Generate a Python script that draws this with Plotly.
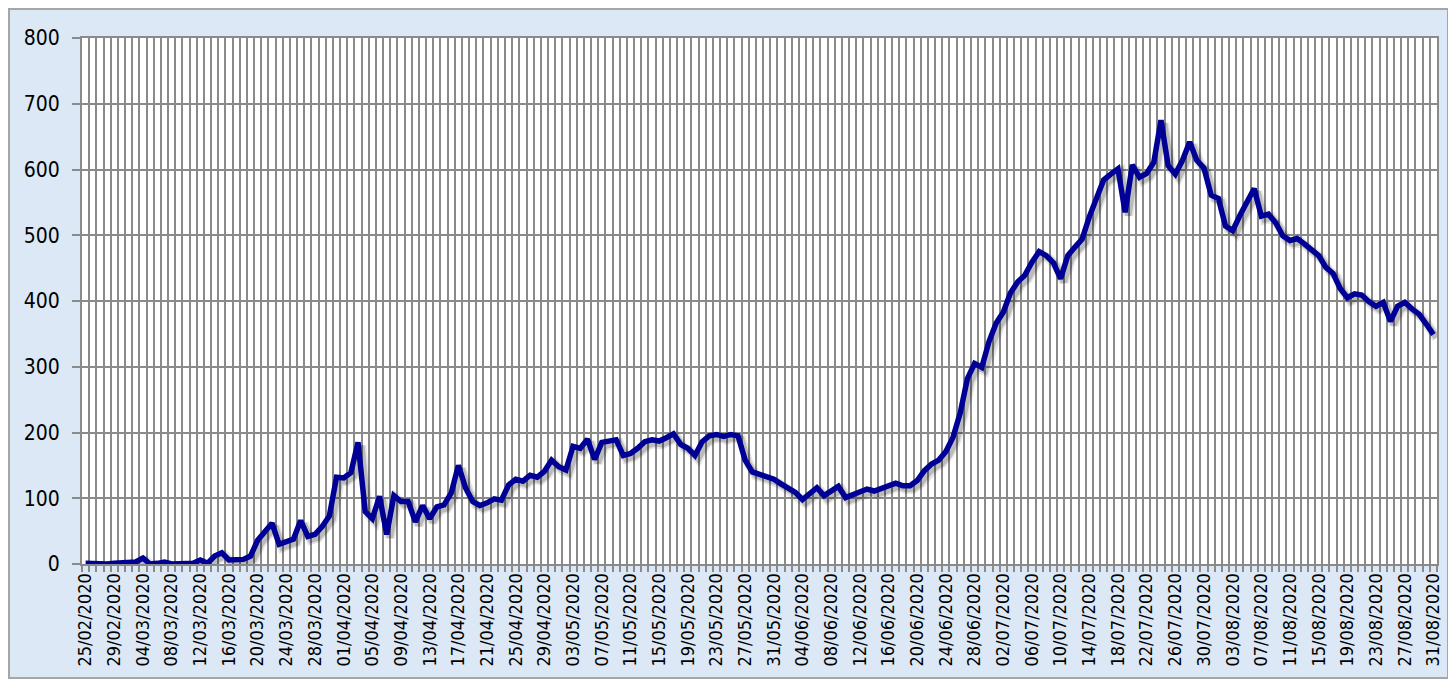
import plotly.graph_objects as go
import pandas as pd

# ---- data (daily values, 25/02/2020 .. 31/08/2020) ----
dates = pd.date_range("2020-02-25", "2020-08-31", freq="D").strftime("%d/%m/%Y").tolist()

cases = [
    1, 0, 0, 0, 1, 2, 2, 3, 9, 0,            # 25/02 - 05/03
    1, 3, 0, 1, 0, 1, 6, 1, 12, 17,          # 06/03 - 15/03
    6, 6, 7, 12, 36, 49, 62, 30, 33, 38,     # 16/03 - 25/03
    66, 42, 45, 57, 73, 132, 131, 139, 185, 80,   # 26/03 - 04/04
    69, 103, 45, 104, 95, 95, 64, 89, 69, 87,     # 05/04 - 14/04
    90, 108, 150, 116, 95, 89, 93, 99, 97, 120,   # 15/04 - 24/04
    129, 126, 135, 132, 141, 158, 148, 143, 179, 176,  # 25/04 - 04/05
    190, 159, 185, 187, 189, 165, 168, 176, 186, 189,  # 05/05 - 14/05
    187, 192, 198, 182, 176, 165, 186, 195, 197, 194,  # 15/05 - 24/05
    197, 195, 158, 140, 137, 134, 129, 122, 115, 109,  # 25/05 - 03/06
    98, 107, 116, 104, 112, 118, 101, 106, 110, 114,   # 04/06 - 13/06
    111, 115, 119, 123, 119, 119, 127, 142, 152, 158,  # 14/06 - 23/06
    171, 193, 230, 282, 305, 299, 338, 366, 383, 412,  # 24/06 - 03/07
    429, 439, 459, 475, 469, 458, 434, 469, 482, 494,  # 04/07 - 13/07
    528, 558, 584, 593, 601, 535, 607, 588, 594, 611,  # 14/07 - 23/07
    675, 606, 593, 614, 642, 614, 602, 561, 556, 514,  # 24/07 - 02/08
    507, 530, 551, 571, 529, 532, 519, 499, 492, 495,  # 03/08 - 12/08
    487, 478, 469, 451, 442, 419, 405, 411, 409, 399,  # 13/08 - 22/08
    392, 398, 369, 392, 398, 388, 380, 365, 349,       # 23/08 - 31/08
]

tick_labels = [d if i % 4 == 0 else "" for i, d in enumerate(dates)]
y_ticks = [0, 100, 200, 300, 400, 500, 600, 700, 800]
idx = list(range(len(dates)))

FONT = "DejaVu Sans Condensed, Liberation Sans Narrow, Arial Narrow, sans-serif"
GRID = "#8a8a8a"
LINE = "#000096"

W, H = 1441, 671
ML, MR, MT, MB = 74, 12, 30, 115
PW, PH = W - ML - MR, H - MT - MB

fig = go.Figure()

# soft drop shadow, drawn on hidden base axes whose ranges are slightly shifted
fig.add_trace(go.Scatter(
    x=idx, y=cases, xaxis="x", yaxis="y", mode="lines",
    line=dict(color="rgba(0,0,0,0.10)", width=10),
    hoverinfo="skip", showlegend=False))
fig.add_trace(go.Scatter(
    x=idx, y=cases, xaxis="x", yaxis="y", mode="lines",
    line=dict(color="rgba(0,0,0,0.18)", width=6.5),
    hoverinfo="skip", showlegend=False))

# main series
fig.add_trace(go.Scatter(
    x=dates, y=cases, xaxis="x2", yaxis="y2", mode="lines",
    line=dict(color=LINE, width=5.5),
    showlegend=False))

n = len(dates)
fig.update_layout(
    width=W, height=H,
    margin=dict(l=ML, r=MR, t=MT, b=MB, autoexpand=False),
    paper_bgcolor="#dce8f5",
    plot_bgcolor="#ffffff",
    font=dict(family=FONT, color="#000000"),
    xaxis=dict(visible=False, range=[-0.5 - 0.45, n - 0.5 - 0.45], automargin=False),
    yaxis=dict(visible=False, range=[5, 805], automargin=False),
    xaxis2=dict(
        overlaying="x", anchor="y2", side="bottom", automargin=False,
        type="category", categoryorder="array", categoryarray=dates,
        range=[-0.5, n - 0.5],
        tickmode="array", tickvals=dates, ticktext=tick_labels,
        tickson="boundaries",
        ticks="outside", ticklen=6, tickwidth=1.5, tickcolor=GRID,
        showgrid=True, gridcolor=GRID, gridwidth=2,
        showline=True, linecolor=GRID, linewidth=2, mirror=True,
        tickangle=-90, tickfont=dict(size=18, family=FONT, color="#000000"),
        zeroline=False,
    ),
    yaxis2=dict(
        overlaying="y", anchor="x2", side="left", automargin=False,
        range=[0, 800],
        tickmode="array", tickvals=y_ticks,
        ticks="outside", ticklen=8, tickwidth=1.5, tickcolor=GRID,
        showgrid=True, gridcolor=GRID, gridwidth=2,
        showline=True, linecolor=GRID, linewidth=2, mirror=True,
        tickfont=dict(size=21, family=FONT, color="#000000"),
        ticklabelstandoff=8,
        zeroline=False,
    ),
    shapes=[dict(
        type="rect", xref="paper", yref="paper",
        x0=-(ML - 1) / PW, x1=1 + (MR - 1) / PW,
        y0=-(MB - 1) / PH, y1=1 + (MT - 1) / PH,
        line=dict(color="#a6a6a6", width=2), fillcolor="rgba(0,0,0,0)",
        layer="below",
    )],
)

fig.write_html("out.html")
